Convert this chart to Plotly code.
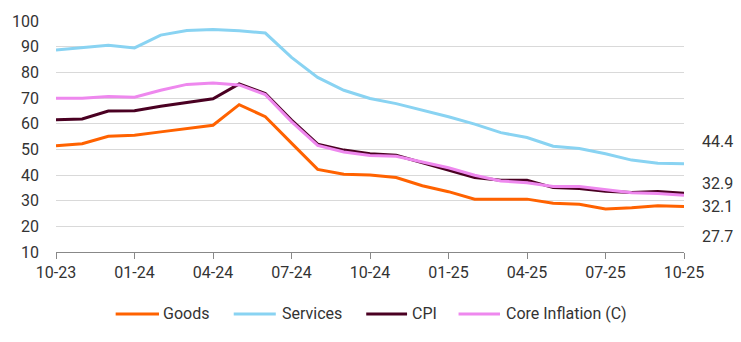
import plotly.graph_objects as go

months = ["10-23", "11-23", "12-23", "01-24", "02-24", "03-24", "04-24", "05-24", "06-24",
          "07-24", "08-24", "09-24", "10-24", "11-24", "12-24", "01-25", "02-25", "03-25",
          "04-25", "05-25", "06-25", "07-25", "08-25", "09-25", "10-25"]

goods = [51.4, 52.2, 55.1, 55.5, 56.8, 58.0, 59.4, 67.4, 62.7, 52.4, 42.2, 40.3, 40.0,
         39.0, 35.8, 33.5, 30.6, 30.6, 30.6, 29.0, 28.6, 26.8, 27.2, 28.0, 27.7]
services = [88.7, 89.5, 90.5, 89.5, 94.5, 96.3, 96.7, 96.2, 95.3, 85.8, 78.0, 73.0, 69.8,
            67.8, 65.4, 62.7, 59.8, 56.5, 54.6, 51.2, 50.3, 48.3, 45.8, 44.6, 44.4]
cpi = [61.5, 61.8, 64.9, 65.0, 66.8, 68.2, 69.7, 75.5, 71.7, 61.4, 52.0, 49.7, 48.3,
       47.7, 44.7, 41.8, 39.0, 38.0, 38.0, 35.1, 34.7, 33.7, 33.2, 33.6, 32.9]
core = [69.9, 69.9, 70.6, 70.3, 73.0, 75.3, 75.8, 75.1, 71.3, 60.8, 51.5, 49.0, 47.6,
        47.3, 45.1, 42.8, 39.9, 37.7, 37.0, 35.5, 35.5, 34.4, 33.1, 32.8, 32.1]

series = [
    ("Goods", goods, "#FF6200"),
    ("Services", services, "#89D3F2"),
    ("CPI", cpi, "#4A0022"),
    ("Core Inflation (C)", core, "#EE88EE"),
]

# vertical offsets (px) for the end-value labels on the right
label_shift = {"Goods": -30, "Services": 22, "CPI": 10, "Core Inflation (C)": -11}

# key layout below the chart: (line start, line end, text start) in paper units
key_pos = {
    "Goods": (0.095, 0.164, 0.167),
    "Services": (0.283, 0.350, 0.356),
    "CPI": (0.494, 0.559, 0.564),
    "Core Inflation (C)": (0.641, 0.707, 0.714),
}
KEY_Y = -0.268

FONT = "Roboto, sans-serif"
TXT = "#333333"

fig = go.Figure()
for name, vals, color in series:
    fig.add_trace(go.Scatter(x=months, y=vals, name=name, mode="lines",
                             line=dict(color=color, width=3)))

for name, vals, color in series:
    fig.add_annotation(x=1, xref="paper", y=vals[-1], yref="y",
                       text=f"{vals[-1]:.1f}", showarrow=False,
                       xanchor="left", xshift=16, yshift=label_shift[name],
                       font=dict(size=16, color=TXT, family=FONT))
    x0, x1, xt = key_pos[name]
    fig.add_shape(type="line", xref="paper", yref="paper",
                  x0=x0, x1=x1, y0=KEY_Y, y1=KEY_Y,
                  line=dict(color=color, width=3))
    fig.add_annotation(x=xt, y=KEY_Y, xref="paper", yref="paper",
                       text=name, showarrow=False, xanchor="left", yanchor="middle",
                       font=dict(size=16, color=TXT, family=FONT))

fig.update_layout(
    width=741, height=342,
    margin=dict(l=55, r=57, t=18, b=90),
    paper_bgcolor="white", plot_bgcolor="white",
    font=dict(family=FONT, size=16, color=TXT),
    showlegend=False,
    xaxis=dict(type="category", range=[0, 24],
               tickvals=months[::3], ticktext=months[::3],
               ticks="outside", ticklen=6, tickcolor="#888888",
               showline=True, linecolor="#888888", linewidth=1,
               showgrid=False, zeroline=False,
               tickfont=dict(size=16, color=TXT)),
    yaxis=dict(range=[10, 100], tickvals=list(range(10, 101, 10)),
               showgrid=True, gridcolor="#d9d9d9", gridwidth=1,
               zeroline=False, showline=False, ticks="",
               ticklabelstandoff=16,
               tickfont=dict(size=16, color=TXT)),
)

fig.write_html("out.html")
